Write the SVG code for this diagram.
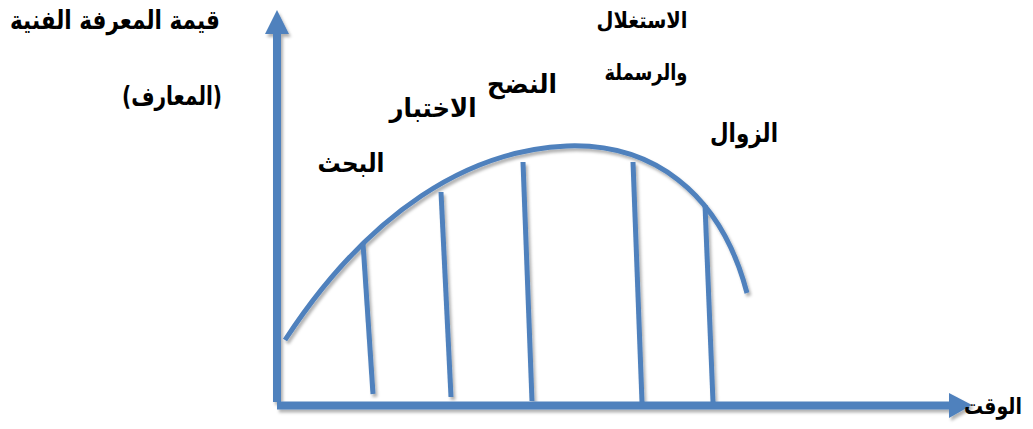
<svg xmlns="http://www.w3.org/2000/svg" width="1033" height="429" viewBox="0 0 1033 429">
<defs>
<filter id="sh" x="-10%" y="-10%" width="120%" height="120%">
<feDropShadow dx="2" dy="3" stdDeviation="1.8" flood-color="#000" flood-opacity="0.3"/>
</filter>
</defs>
<style>
.ax{stroke:#4F81BD;stroke-width:8;fill:none}
.hd{fill:#4F81BD}
.cv{stroke:#4F81BD;stroke-width:5;fill:none}
.vl{stroke:#4F81BD;stroke-width:5}
.t{font-family:"DejaVu Sans",sans-serif;font-weight:bold;fill:#000;text-anchor:middle}
</style>
<rect width="1033" height="429" fill="#fff"/>
<g id="connectors" filter="url(#sh)">
<line class="ax" x1="277" y1="402" x2="277" y2="32"/>
<polygon class="hd" points="277,10 265,34 289,34"/>
<line class="ax" x1="277" y1="405.5" x2="951" y2="405.5"/>
<polygon class="hd" points="972,405 949,393 949,418"/>
<path class="cv" d="M285,340 C370,210 470,150 567,146 C650,143 720,190 747,293"/>
<line class="vl" x1="363" y1="243" x2="373" y2="394"/>
<line class="vl" x1="441" y1="192" x2="451" y2="397"/>
<line class="vl" x1="523" y1="162" x2="532" y2="401"/>
<line class="vl" x1="633" y1="162" x2="642" y2="402"/>
<line class="vl" x1="705" y1="205" x2="713" y2="402"/>
</g>
<g id="label-yaxis">
<text class="t" x="115" y="29" font-size="26" textLength="210" lengthAdjust="spacingAndGlyphs">قيمة المعرفة الفنية</text>
<text class="t" x="172" y="105" font-size="26" textLength="100" lengthAdjust="spacingAndGlyphs">(المعارف)</text>
</g>
<g id="label-exploit">
<text class="t" x="642" y="28" font-size="22" textLength="91" lengthAdjust="spacingAndGlyphs">الاستغلال</text>
<text class="t" x="646" y="80" font-size="22" textLength="83" lengthAdjust="spacingAndGlyphs">والرسملة</text>
</g>
<g id="label-maturity">
<text class="t" x="522" y="93" font-size="26" textLength="70" lengthAdjust="spacingAndGlyphs">النضح</text>
</g>
<g id="label-test">
<text class="t" x="433" y="117" font-size="26" textLength="87" lengthAdjust="spacingAndGlyphs">الاختبار</text>
</g>
<g id="label-decline">
<text class="t" x="744" y="142" font-size="26" textLength="68" lengthAdjust="spacingAndGlyphs">الزوال</text>
</g>
<g id="label-research">
<text class="t" x="351" y="172" font-size="26" textLength="67" lengthAdjust="spacingAndGlyphs">البحث</text>
</g>
<g id="label-time">
<text class="t" x="993" y="414" font-size="23" textLength="58" lengthAdjust="spacingAndGlyphs">الوقت</text>
</g>
</svg>
